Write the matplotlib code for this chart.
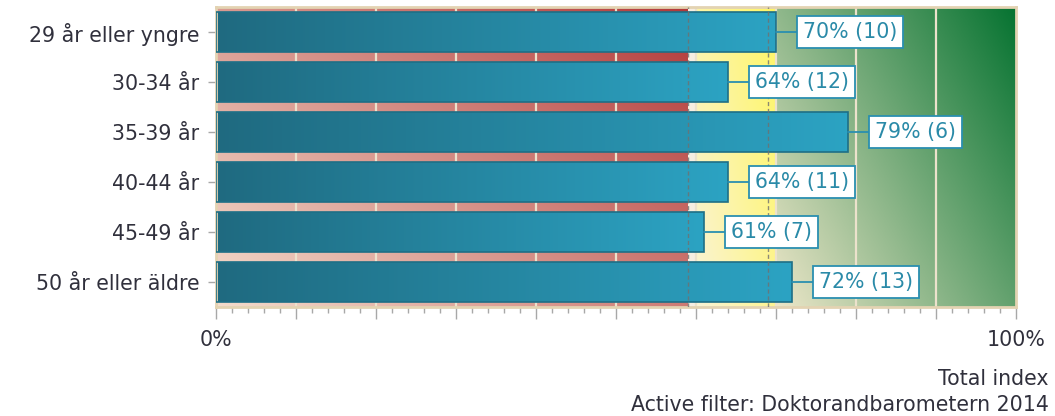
import numpy as np
import matplotlib
matplotlib.use("Agg")
import matplotlib.pyplot as plt
from matplotlib.colors import to_rgb

# data
groups = ["29 år eller yngre", "30-34 år", "35-39 år", "40-44 år", "45-49 år", "50 år eller äldre"]
percent = [70, 64, 79, 64, 61, 72]
answers = [10, 12, 6, 11, 7, 13]

# coloured zones (percent) and reference lines
zone_red = (0, 59)
zone_yellow = (60, 70)
zone_green = (70, 100)
ref_lines = [59, 69]

text_col = "#30303c"
frame_col = "#e3d3b2"
fs = 14.8


def diag_gradient(c0, c1, nx=200, ny=100):
    # pale at bottom-left, dark at top-right
    u = np.linspace(0, 1, nx)[None, :]
    v = np.linspace(1, 0, ny)[:, None]
    t = (0.6 * u + 0.4 * v)
    a, b = np.array(to_rgb(c0)), np.array(to_rgb(c1))
    return a + (b - a) * t[..., None]


def h_gradient(c0, c1, n=200):
    u = np.linspace(0, 1, n)[None, :]
    a, b = np.array(to_rgb(c0)), np.array(to_rgb(c1))
    return a + (b - a) * u[..., None]


fig = plt.figure(figsize=(10.55, 4.16), dpi=100)
ax = fig.add_axes([216 / 1055, 1 - 307 / 416, 800 / 1055, 300 / 416])

n = len(groups)
ylo, yhi = n - 0.5, -0.5
ax.set_facecolor("#f6eee2")

ax.imshow(diag_gradient("#f4dccc", "#b33a3a"), extent=(*zone_red, ylo, yhi),
          aspect="auto", zorder=0)
ax.imshow(diag_gradient("#faf3d6", "#fff664"), extent=(*zone_yellow, ylo, yhi),
          aspect="auto", zorder=0)
ax.imshow(diag_gradient("#ece6c8", "#067331"), extent=(*zone_green, ylo, yhi),
          aspect="auto", zorder=0)

for gx in range(10, 100, 10):
    ax.axvline(gx, color="#ece2cc", lw=1.6, zorder=1)

ypos = np.arange(n)
bars = ax.barh(ypos, percent, height=0.8, facecolor="none",
               edgecolor="#1e6f86", lw=1.2, zorder=3)
for bar, p, y in zip(bars, percent, ypos):
    im = ax.imshow(h_gradient("#1f6a80", "#2ca3c3"),
                   extent=(0, p, y + 0.4, y - 0.4), aspect="auto", zorder=2)
    im.set_clip_path(bar)

for rx in ref_lines:
    ax.axvline(rx, color="#707070", lw=1, ls=(0, (3, 2)), alpha=0.8, zorder=4)

for p, a, y in zip(percent, answers, ypos):
    ax.annotate(f"{p}% ({a})", xy=(p, y), xytext=(19.5, 0),
                textcoords="offset points", ha="left", va="center",
                fontsize=fs, color="#2a8aa8", zorder=5,
                bbox=dict(boxstyle="square,pad=0.28", fc="white",
                          ec="#2a8fb0", lw=1.3),
                arrowprops=dict(arrowstyle="-", color="#2a8fb0", lw=1.3,
                                shrinkA=0, shrinkB=0))

ax.set_xlim(0, 100)
ax.set_ylim(ylo, yhi)
ax.set_yticks(ypos)
ax.set_yticklabels(groups, fontsize=fs, color=text_col)
ax.set_xticks(np.arange(0, 101, 10))
ax.set_xticklabels(["0%"] + [""] * 9 + ["100%"], fontsize=fs, color=text_col)
ax.set_xticks(np.arange(0, 101, 2), minor=True)
ax.tick_params(axis="x", which="major", length=8.5, width=1, color="#a8a8a8", pad=8)
ax.tick_params(axis="x", which="minor", length=4.3, width=1, color="#a8a8a8")
ax.tick_params(axis="y", length=6, width=1, color="#a8a8a8", pad=6)

for s in ax.spines.values():
    s.set_color(frame_col)
    s.set_linewidth(2)

fig.text(1049 / 1055, 1 - 379 / 416, "Total index", ha="right", va="center",
         fontsize=fs, color=text_col)
fig.text(1049 / 1055, 1 - 405 / 416, "Active filter: Doktorandbarometern 2014",
         ha="right", va="center", fontsize=fs, color=text_col)

fig.savefig("out.png", dpi=100)
